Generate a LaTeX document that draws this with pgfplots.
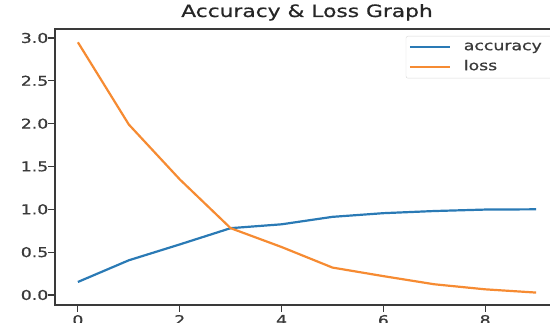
\documentclass[border=0pt]{standalone}
\usepackage{fontspec}
\setmainfont{DejaVu Sans}[FakeStretch=1.28, FakeBold=0.8]
\usepackage{pgfplots}
\pgfplotsset{compat=1.18}
\definecolor{tabblue}{HTML}{2A7AB5}
\definecolor{taborange}{HTML}{F68B32}
\definecolor{axgray}{HTML}{3A3A3A}
\begin{document}
\begin{tikzpicture}
\useasboundingbox (0pt,0pt) rectangle (550pt,322pt);
\clip (0pt,0pt) rectangle (550pt,322pt);
\begin{axis}[
  at={(55pt,17pt)}, anchor=south west,
  scale only axis, width=504pt, height=276pt,
  xmin=-0.45, xmax=9.45, ymin=-0.117, ymax=3.105,
  xtick={0,2,4,6,8}, ytick={0,0.5,1,1.5,2,2.5,3},
  yticklabel style={/pgf/number format/fixed, /pgf/number format/fixed zerofill,
    /pgf/number format/precision=1, inner xsep=2pt, xshift=2pt},
  /pgf/number format/assume math mode=true,
  tick label style={font=\fontsize{13.5}{15}\selectfont, text=axgray},
  tick align=outside, tick pos=left,
  major tick length=6.5pt,
  every tick/.style={axgray, line width=1.1pt},
  axis line style={axgray, line width=1.2pt},
  title={Accuracy \& Loss Graph},
  title style={font=\fontsize{17}{19}\selectfont, text=black!85, anchor=base, at={(rel axis cs:0.5,1)}, yshift=6pt},
  legend style={at={(rel axis cs:1,1)}, anchor=north east, xshift=-6pt, yshift=-7pt,
    draw=black!15, rounded corners=2pt, fill=white,
    font=\fontsize{13.5}{15}\selectfont, text=axgray,
    inner xsep=3pt, inner ysep=2pt, row sep=2pt,
    nodes={inner sep=2pt, text height=10pt, text depth=4pt},
    /tikz/every odd column/.append style={column sep=11pt}},
  legend cell align=left,
  legend image code/.code={\draw[#1, line width=1.8pt] (0pt,0pt) -- (40pt,0pt);},
]
\addplot[tabblue, line width=2.2pt] coordinates {
 (0,0.152) (1,0.405) (2,0.59) (3,0.78) (4,0.825) (5,0.912) (6,0.955) (7,0.98) (8,0.997) (9,1.0)};
\addlegendentry{accuracy\hspace*{6pt}}
\addplot[taborange, line width=2.2pt] coordinates {
 (0,2.95) (1,1.99) (2,1.35) (3,0.78) (4,0.56) (5,0.32) (6,0.22) (7,0.125) (8,0.066) (9,0.028)};
\addlegendentry{loss}
\end{axis}
\end{tikzpicture}
\end{document}
